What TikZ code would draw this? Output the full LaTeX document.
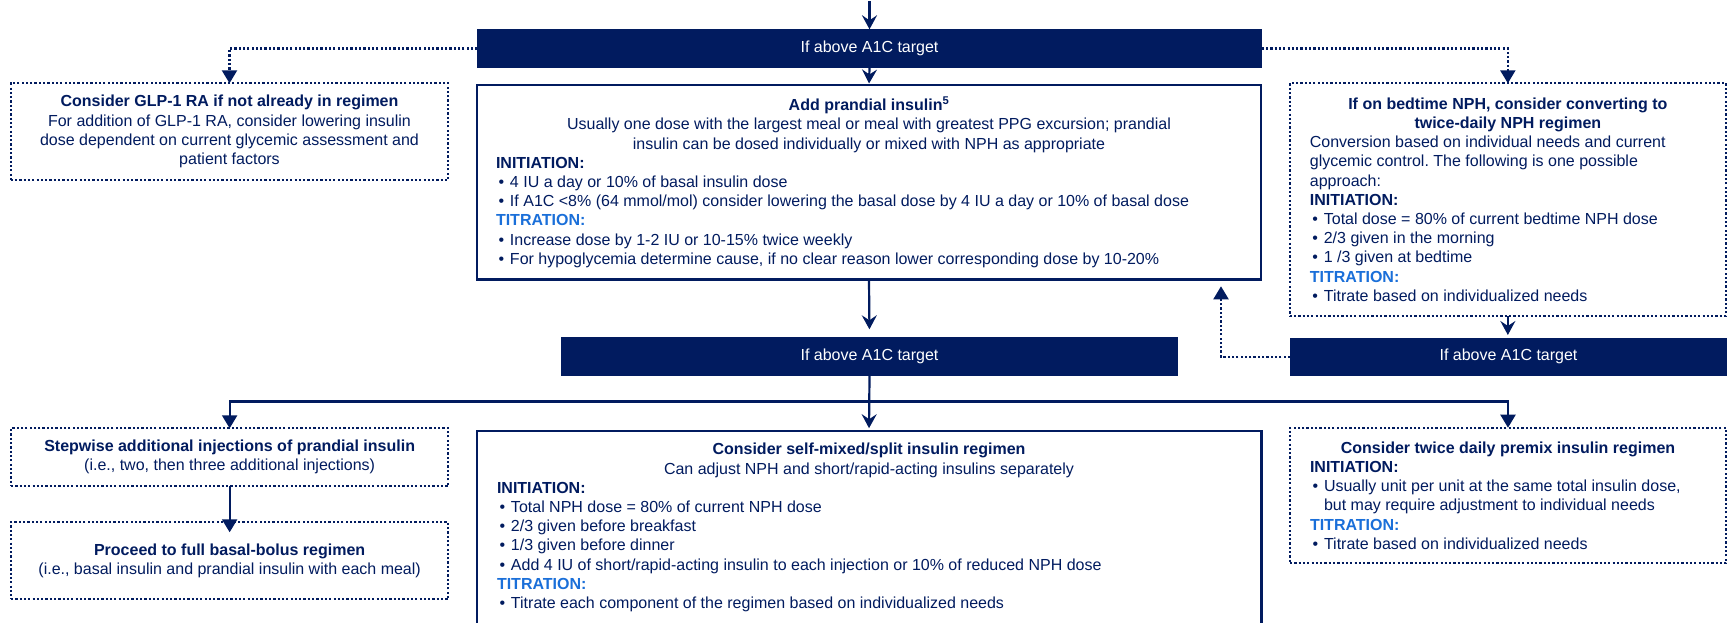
\documentclass[tikz,border=0pt]{standalone}
\usepackage{fontspec}
\setmainfont{Liberation Sans}
\usetikzlibrary{arrows.meta}
\definecolor{navy}{RGB}{1,27,95}
\definecolor{titblue}{RGB}{26,111,217}

% section headings and bullet items inside the boxes
\newcommand{\ini}{{\bfseries INITIATION:}\par}
\newcommand{\tit}{{\color{titblue}\bfseries TITRATION:}\par}
\newcommand{\itm}[1]{\hangindent=14pt\hangafter=1\noindent\makebox[14pt][l]{\hspace{2.5pt}•}#1\par}
\frenchspacing

\begin{document}
\begin{tikzpicture}[x=1pt,y=-1pt,
  every node/.style={font=\fontsize{16}{19.2}\selectfont, text=navy, inner sep=0pt, outer sep=0pt},
  bar/.style={fill=navy, text=white, minimum height=38.4pt},
  solidbox/.style={draw=navy, line width=2.4pt},
  dotbox/.style={draw=navy, line width=2.2pt, dash pattern=on 2.2pt off 2.1pt},
  flow/.style={draw=navy, line width=2.2pt},
  dotflow/.style={draw=navy, line width=2.2pt, dash pattern=on 2.2pt off 2.1pt},
  tri/.style={-{Triangle[width=15pt,length=13pt]}},
  stl/.style={-{Stealth[width=15pt,length=14pt,inset=5pt]}},
]
\useasboundingbox (0,0) rectangle (1727,622);
\fill[white] (0,0) rectangle (1727,622);

% decision bars
\node[bar, minimum width=784.4pt] (topbar) at (869.5,48.5) {If above A1C target};
\node[bar, minimum width=617pt] (midbar) at (869.5,356.5) {If above A1C target};
\node[bar, minimum width=437pt] (rightbar) at (1508.5,356.7) {If above A1C target};

% upper row
\node[dotbox, minimum width=437.6pt, minimum height=96.7pt] (glp) at (229.5,131.65) {%
\begin{minipage}{420pt}\centering\frenchspacing
\textbf{Consider GLP-1 RA if not already in regimen}\\
For addition of GLP-1 RA, consider lowering insulin\\
dose dependent on current glycemic assessment and\\
patient factors
\end{minipage}};

\node[solidbox, minimum width=784pt, minimum height=194.3pt] (prandial) at (869,182.15) {%
\begin{minipage}{746pt}\frenchspacing
{\centering\textbf{Add prandial insulin\textsuperscript{5}}\\
Usually one dose with the largest meal or meal with greatest PPG excursion; prandial\\
insulin can be dosed individually or mixed with NPH as appropriate\par}
\raggedright
\ini
\itm{4 IU a day or 10\% of basal insulin dose}
\itm{If A1C <8\% (64 mmol/mol) consider lowering the basal dose by 4 IU a day or 10\% of basal dose}
\tit
\itm{Increase dose by 1-2 IU or 10-15\% twice weekly}
\itm{For hypoglycemia determine cause, if no clear reason lower corresponding dose by 10-20\%}
\end{minipage}};

\node[dotbox, minimum width=436.3pt, minimum height=232.4pt] (nph) at (1507.85,199.5) {%
\begin{minipage}{396pt}\frenchspacing
{\centering\textbf{If on bedtime NPH, consider converting to}\\
\textbf{twice-daily NPH regimen}\par}
\raggedright
Conversion based on individual needs and current\\
glycemic control. The following is one possible\\
approach:\par
\ini
\itm{Total dose = 80\% of current bedtime NPH dose}
\itm{2/3 given in the morning}
\itm{1 /3 given at bedtime}
\tit
\itm{Titrate based on individualized needs}
\end{minipage}};

% lower row
\node[dotbox, minimum width=437.3pt, minimum height=57.7pt] (stepwise) at (229.65,457.15) {%
\begin{minipage}{420pt}\centering\frenchspacing
\textbf{Stepwise additional injections of prandial insulin}\\
(i.e., two, then three additional injections)
\end{minipage}};

\node[dotbox, minimum width=437.3pt, minimum height=77pt] (basal) at (229.65,560.8) {%
\begin{minipage}{420pt}\centering\frenchspacing
\textbf{Proceed to full basal-bolus regimen}\\
(i.e., basal insulin and prandial insulin with each meal)
\end{minipage}};

\node[solidbox, minimum width=784.6pt, minimum height=193.6pt] (selfmixed) at (869,527.5) {%
\begin{minipage}{744pt}\frenchspacing
{\centering\textbf{Consider self-mixed/split insulin regimen}\\
Can adjust NPH and short/rapid-acting insulins separately\par}
\raggedright
\ini
\itm{Total NPH dose = 80\% of current NPH dose}
\itm{2/3 given before breakfast}
\itm{1/3 given before dinner}
\itm{Add 4 IU of short/rapid-acting insulin to each injection or 10\% of reduced NPH dose}
\tit
\itm{Titrate each component of the regimen based on individualized needs}
\end{minipage}};

\node[dotbox, minimum width=436pt, minimum height=135.6pt] (premix) at (1508,495.5) {%
\begin{minipage}{396pt}\frenchspacing
{\centering\textbf{Consider twice daily premix insulin regimen}\par}
\raggedright
\ini
\itm{Usually unit per unit at the same total insulin dose,\hfil\break but may require adjustment to individual needs}
\tit
\itm{Titrate based on individualized needs}
\end{minipage}};

% connectors
\coordinate (entry) at (869.5,1);
\coordinate (fork) at (869.5,401.5);
\draw[flow, stl] (entry) -- (topbar.north);
\draw[flow, stl, shorten >=1.5pt] (topbar.south) -- (prandial.north);
\draw[dotflow, tri] (topbar.west) -| (glp.north);
\draw[dotflow, tri] (topbar.east) -| (nph.north);
\draw[flow, stl, shorten >=8pt] (prandial.south) -- (midbar.north);
\draw[flow, stl, shorten >=2.5pt] (nph.south) -- (nph.south |- rightbar.north);
\draw[dotflow, tri, shorten >=7pt] (rightbar.west) -| ([xshift=-40pt]prandial.south east);
\draw[flow, stl, shorten >=2.5pt] (midbar.south) -- (selfmixed.north);
\draw[flow, tri] (fork) -| (stepwise.north);
\draw[flow, tri] (fork) -| (premix.north);
\draw[flow, tri, shorten >=-10pt] (stepwise.south) -- (basal.north);
\end{tikzpicture}
\end{document}
